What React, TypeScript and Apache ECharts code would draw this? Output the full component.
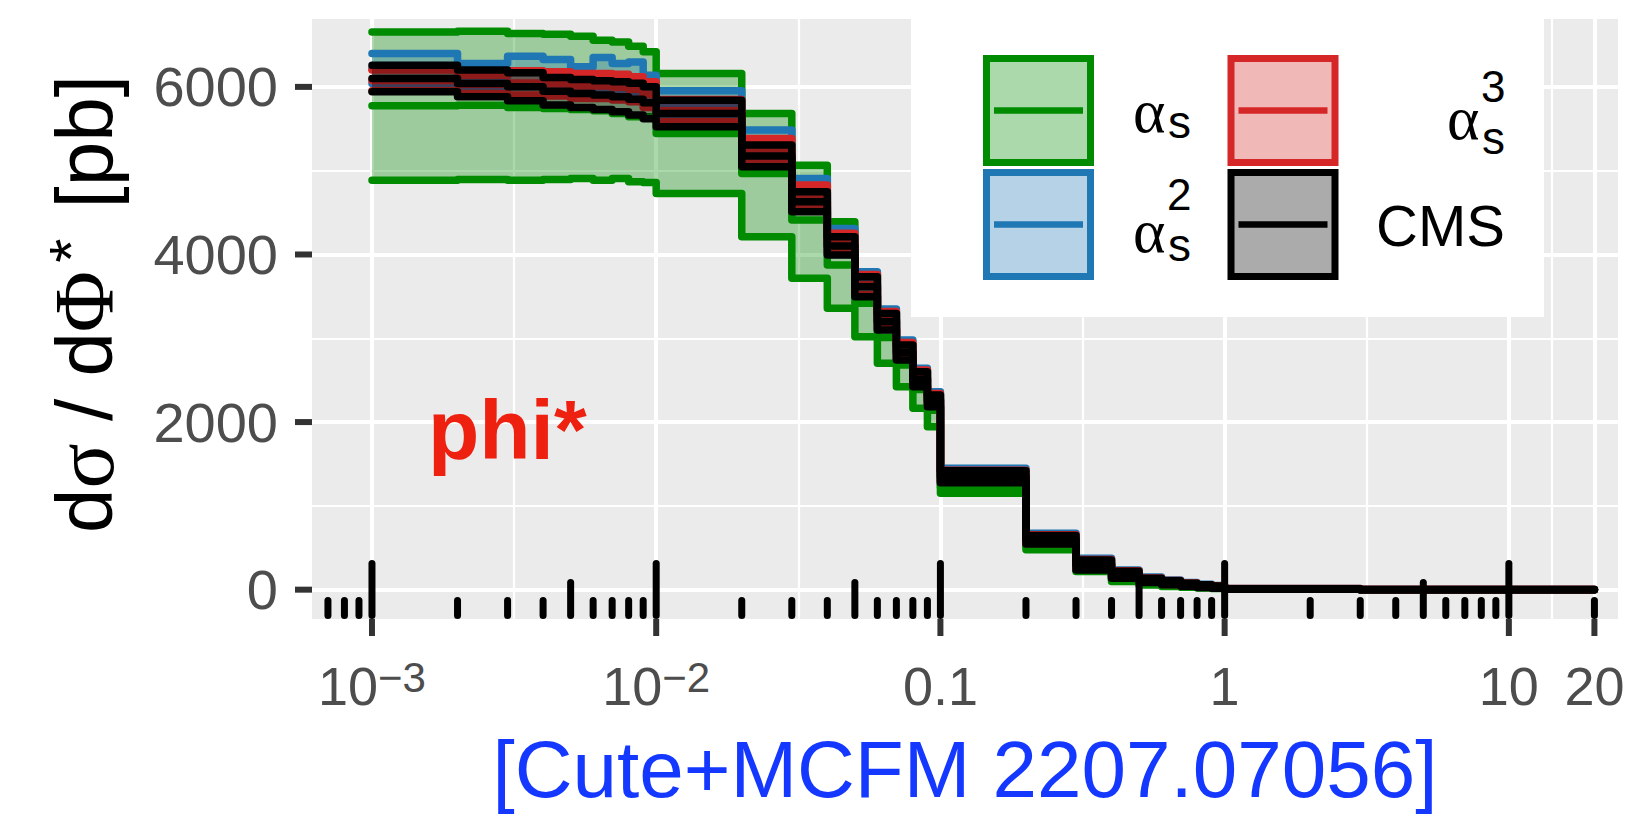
import React, { useEffect, useRef } from "react";
import * as echarts from "echarts";

// ---------- data ----------
const binEdges = [
  0.001, 0.002, 0.003, 0.004, 0.005, 0.006, 0.007, 0.008, 0.009,
  0.01, 0.02, 0.03, 0.04, 0.05, 0.06, 0.07, 0.08, 0.09,
  0.1, 0.2, 0.3, 0.4, 0.5, 0.6, 0.7, 0.8, 0.9,
  1, 3, 20,
];

const alphaS_hi = [6656, 6664, 6636, 6628, 6605, 6557, 6537, 6486, 6418, 6160, 5683, 5066, 4390, 3780, 3310, 2930, 2610, 2330, 1310, 560, 260, 140, 90, 62, 45, 34, 26, 8, 0.6];
const alphaS_mid = [5774, 5782, 5754, 5742, 5730, 5714, 5682, 5643, 5643, 5444, 4967, 4410, 3874, 3417, 3010, 2680, 2390, 2140, 1230, 514, 238, 118, 72, 50, 36, 27, 20, 6, 0.4];
const alphaS_lo = [4887, 4895, 4887, 4895, 4907, 4887, 4907, 4867, 4859, 4729, 4211, 3715, 3357, 3019, 2701, 2422, 2164, 1945, 1151, 475, 216, 97, 57, 38, 28, 20, 15, 4, 0.3];

const alphaS2_hi = [6398, 6279, 6366, 6326, 6239, 6350, 6279, 6298, 6140, 5953, 5484, 4908, 4311, 3794, 3350, 2979, 2641, 2363, 1449, 674, 376, 236, 150, 115, 85, 65, 50, 14, 1.2];
const alphaS2_mid = [6219, 6120, 6184, 6154, 6096, 6156, 6110, 6100, 5991, 5776, 5302, 4734, 4156, 3652, 3228, 2865, 2536, 2277, 1370, 617, 313, 193, 120, 90, 65, 48, 35, 10, 0.8];
const alphaS2_lo = [6040, 5961, 6001, 5981, 5953, 5961, 5942, 5902, 5842, 5600, 5120, 4560, 4000, 3510, 3105, 2750, 2430, 2190, 1290, 560, 250, 150, 90, 65, 45, 30, 20, 6, 0.5];

const alphaS3_hi = [6200, 6140, 6192, 6180, 6160, 6160, 6152, 6121, 6062, 5850, 5385, 4828, 4252, 3760, 3320, 2950, 2620, 2340, 1425, 655, 360, 225, 140, 108, 80, 60, 46, 14, 1.0];
const alphaS3_mid = [6076, 6030, 6047, 6035, 6011, 6011, 5997, 5972, 5908, 5716, 5245, 4700, 4140, 3640, 3220, 2855, 2530, 2270, 1355, 600, 300, 185, 114, 85, 61, 44, 32, 10, 0.7];
const alphaS3_lo = [5953, 5921, 5902, 5890, 5862, 5862, 5842, 5823, 5754, 5583, 5106, 4569, 4030, 3520, 3120, 2760, 2440, 2200, 1285, 550, 245, 145, 88, 62, 42, 28, 19, 6, 0.4];

const cms_hi = [6259, 6200, 6168, 6113, 6089, 6074, 6062, 6042, 6002, 5841, 5305, 4748, 4211, 3734, 3297, 2920, 2601, 2323, 1420, 645, 355, 220, 137, 105, 78, 58, 44, 10, 0.8];
const cms_mid = [6100, 6040, 6001, 5948, 5921, 5902, 5882, 5853, 5811, 5682, 5175, 4628, 4102, 3615, 3197, 2830, 2511, 2253, 1348, 595, 295, 178, 111, 82, 59, 42, 30, 7, 0.5];
const cms_lo = [5941, 5881, 5834, 5783, 5754, 5731, 5703, 5664, 5620, 5523, 5046, 4509, 3993, 3496, 3098, 2741, 2422, 2184, 1277, 546, 236, 137, 85, 60, 40, 26, 17, 4, 0.3];

const xTickValues = [0.001, 0.01, 0.1, 1, 10, 20];
const xTickBase = ["10", "10", "0.1", "1", "10", "20"];
const xTickExp = ["−3", "−2", "", "", "", ""];
const xMinorGrid = [0.0031623, 0.031623, 0.31623, 3.1623, 14.142];
const yTickValues = [0, 2000, 4000, 6000];
const yTickLabels = ["0", "2000", "4000", "6000"];
const yMinorGrid = [1000, 3000, 5000];
const logTickValues = [
  0.0007, 0.0008, 0.0009,
  0.001, 0.002, 0.003, 0.004, 0.005, 0.006, 0.007, 0.008, 0.009,
  0.01, 0.02, 0.03, 0.04, 0.05, 0.06, 0.07, 0.08, 0.09,
  0.1, 0.2, 0.3, 0.4, 0.5, 0.6, 0.7, 0.8, 0.9,
  1, 2, 3, 4, 5, 6, 7, 8, 9,
  10, 20,
];

const X_MIN = -3.211;
const X_MAX = 1.384;
const Y_MIN = -350;
const Y_MAX = 6810;

const SANS = "'Liberation Sans', Arial, Helvetica, sans-serif";
const SERIF = "'Liberation Serif', 'DejaVu Serif', serif";
const TICK_COL = "#4D4D4D";
const LINE_W = 7.5;

type Band = { name: string; color: string; fill: string; hi: number[]; mid: number[]; lo: number[] };

const bands: Band[] = [
  { name: "αs", color: "#008B00", fill: "rgba(0,139,0,0.33)", hi: alphaS_hi, mid: alphaS_mid, lo: alphaS_lo },
  { name: "αs2", color: "#1F77B4", fill: "rgba(31,119,180,0.33)", hi: alphaS2_hi, mid: alphaS2_mid, lo: alphaS2_lo },
  { name: "αs3", color: "#D62728", fill: "rgba(214,39,40,0.33)", hi: alphaS3_hi, mid: alphaS3_mid, lo: alphaS3_lo },
  { name: "CMS", color: "#000000", fill: "rgba(0,0,0,0.33)", hi: cms_hi, mid: cms_mid, lo: cms_lo },
];

const lx = (v: number) => Math.log10(v);

function buildSeries() {
  const series: any[] = [];
  let z = 2;
  bands.forEach((b) => {
    // ribbon
    series.push({
      type: "custom",
      name: b.name + " band",
      silent: true,
      z: z++,
      data: [[lx(binEdges[0]), b.lo[0]]],
      renderItem: (_params: any, api: any) => {
        const pts: number[][] = [];
        for (let i = 0; i < b.hi.length; i++) {
          pts.push(api.coord([lx(binEdges[i]), b.hi[i]]));
          pts.push(api.coord([lx(binEdges[i + 1]), b.hi[i]]));
        }
        for (let i = b.lo.length - 1; i >= 0; i--) {
          pts.push(api.coord([lx(binEdges[i + 1]), b.lo[i]]));
          pts.push(api.coord([lx(binEdges[i]), b.lo[i]]));
        }
        return { type: "polygon", shape: { points: pts }, style: { fill: b.fill, stroke: "none" } };
      },
    });
    // step lines: upper, lower, central
    [b.hi, b.lo, b.mid].forEach((vals, k) => {
      series.push({
        type: "custom",
        name: b.name + ["hi", "lo", "mid"][k],
        silent: true,
        z: z++,
        data: [[lx(binEdges[0]), vals[0]]],
        renderItem: (_params: any, api: any) => {
          const pts: number[][] = [];
          for (let i = 0; i < vals.length; i++) {
            pts.push(api.coord([lx(binEdges[i]), vals[i]]));
            pts.push(api.coord([lx(binEdges[i + 1]), vals[i]]));
          }
          return {
            type: "polyline",
            shape: { points: pts },
            style: { stroke: b.color, lineWidth: LINE_W, fill: "none", lineJoin: "round", lineCap: "round" },
          };
        },
      });
    });
  });
  // log ticks (annotation_logticks)
  series.push({
    type: "custom",
    name: "logticks",
    silent: true,
    z: 100,
    data: logTickValues.map((v) => {
      const m = Math.round(v / Math.pow(10, Math.floor(Math.log10(v) + 1e-9)));
      return [lx(v), m === 1 ? 2 : m === 5 ? 1 : 0];
    }),
    renderItem: (_params: any, api: any) => {
      const base = api.coord([api.value(0), Y_MIN]);
      const kind = api.value(1);
      const len = kind === 2 ? 59 : kind === 1 ? 40 : 22;
      return {
        type: "line",
        shape: { x1: base[0], y1: base[1] - 3.5, x2: base[0], y2: base[1] - len + 3.5 },
        style: { stroke: "#000", lineWidth: 7, lineCap: "round" },
      };
    },
  });
  // axis ticks (outside the panel)
  series.push({
    type: "custom",
    name: "xticks",
    silent: true,
    z: 99,
    data: xTickValues.map((v) => [lx(v), Y_MIN]),
    renderItem: (_params: any, api: any) => {
      const p = api.coord([api.value(0), api.value(1)]);
      return {
        type: "line",
        shape: { x1: p[0], y1: p[1], x2: p[0], y2: p[1] + 17 },
        style: { stroke: "#333333", lineWidth: 6 },
      };
    },
  });
  series.push({
    type: "custom",
    name: "yticks",
    silent: true,
    z: 99,
    data: yTickValues.map((v) => [X_MIN, v]),
    renderItem: (_params: any, api: any) => {
      const p = api.coord([api.value(0), api.value(1)]);
      return {
        type: "line",
        shape: { x1: p[0] - 17, y1: p[1], x2: p[0], y2: p[1] },
        style: { stroke: "#333333", lineWidth: 6 },
      };
    },
  });
  return series;
}

function legendGraphics() {
  const els: any[] = [];
  els.push({ type: "rect", shape: { x: 911, y: 19, width: 633, height: 298 }, style: { fill: "#FFFFFF" }, z: 200 });
  const keys = [
    { b: bands[0], x: 986.5, y: 58.5 },
    { b: bands[1], x: 986.5, y: 172.5 },
    { b: bands[2], x: 1231, y: 58.5 },
    { b: bands[3], x: 1231, y: 172.5 },
  ];
  keys.forEach((k) => {
    els.push({
      type: "rect",
      shape: { x: k.x, y: k.y, width: 104, height: 104 },
      style: { fill: k.b.fill, stroke: k.b.color, lineWidth: 7 },
      z: 201,
    });
    els.push({
      type: "line",
      shape: { x1: k.x + 7.5, y1: k.y + 52, x2: k.x + 96.5, y2: k.y + 52 },
      style: { stroke: k.b.color, lineWidth: 6.5 },
      z: 202,
    });
  });
  const t = (text: string, x: number, y: number, size: number, family: string, align = "left") => ({
    type: "text",
    x,
    y,
    z: 203,
    style: { text, fill: "#000", fontSize: size, fontFamily: family, align, verticalAlign: "middle" },
  });
  // α_s
  els.push(t("α", 1133, 111, 62, SERIF));
  els.push(t("s", 1168, 122, 46, SANS));
  // α_s^2
  els.push(t("α", 1133, 231, 62, SERIF));
  els.push(t("s", 1168, 245, 46, SANS));
  els.push(t("2", 1167, 194, 44, SANS));
  // α_s^3
  els.push(t("α", 1447, 118, 62, SERIF));
  els.push(t("s", 1482, 138, 46, SANS));
  els.push(t("3", 1481, 86, 44, SANS));
  // CMS
  els.push(t("CMS", 1505, 225, 58, SANS, "right"));
  return els;
}

function buildOption() {
  return {
    animation: false,
    backgroundColor: "#FFFFFF",
    grid: { left: 312, top: 19, width: 1306, height: 600, show: true, backgroundColor: "#EBEBEB", borderWidth: 0 },
    xAxis: [
      {
        type: "value",
        min: X_MIN,
        max: X_MAX,
        position: "bottom",
        axisLine: { show: false, onZero: false },
        axisTick: { show: false, customValues: xTickValues.map(lx) },
        axisLabel: {
          customValues: xTickValues.map(lx),
          margin: 37,
          formatter: (v: number) => {
            const i = xTickValues.findIndex((t) => Math.abs(lx(t) - v) < 1e-6);
            if (i < 0) return "";
            return "{b|" + xTickBase[i] + "}" + (xTickExp[i] ? "{s|" + xTickExp[i] + "}" : "");
          },
          rich: {
            b: { fontSize: 54, lineHeight: 60, color: TICK_COL, fontFamily: SANS },
            s: { fontSize: 42, lineHeight: 24, verticalAlign: "top", color: TICK_COL, fontFamily: SANS },
          },
        },
        splitLine: { show: true, lineStyle: { color: "#FFFFFF", width: 4 } },
      },
      {
        type: "value",
        min: X_MIN,
        max: X_MAX,
        position: "bottom",
        axisLine: { show: false, onZero: false },
        axisTick: { show: false, customValues: xMinorGrid.map(lx) },
        axisLabel: { show: false },
        splitLine: { show: true, lineStyle: { color: "#FFFFFF", width: 2.2 } },
      },
    ],
    yAxis: [
      {
        type: "value",
        min: Y_MIN,
        max: Y_MAX,
        position: "left",
        axisLine: { show: false, onZero: false },
        axisTick: { show: false, customValues: yTickValues },
        axisLabel: {
          customValues: yTickValues,
          margin: 34,
          fontSize: 56,
          color: TICK_COL,
          fontFamily: SANS,
          formatter: (v: number) => {
            const i = yTickValues.findIndex((t) => Math.abs(t - v) < 1e-6);
            return i < 0 ? "" : yTickLabels[i];
          },
        },
        splitLine: { show: true, lineStyle: { color: "#FFFFFF", width: 4 } },
      },
      {
        type: "value",
        min: Y_MIN,
        max: Y_MAX,
        position: "left",
        axisLine: { show: false, onZero: false },
        axisTick: { show: false, customValues: yMinorGrid },
        axisLabel: { show: false },
        splitLine: { show: true, lineStyle: { color: "#FFFFFF", width: 2.2 } },
      },
    ],
    series: buildSeries(),
    graphic: [
      ...legendGraphics(),
      {
        type: "text",
        x: 84,
        y: 304,
        rotation: Math.PI / 2,
        z: 210,
        style: {
          text: "{n|d}{g|σ}{n| / d}{g|Φ}{u|*}{n| [pb]}",
          align: "center",
          verticalAlign: "middle",
          rich: {
            n: { fontSize: 80, fontFamily: SANS, fill: "#000", lineHeight: 90 },
            g: { fontSize: 84, fontFamily: SERIF, fill: "#000", lineHeight: 90 },
            u: { fontSize: 62, fontFamily: SANS, fill: "#000", lineHeight: 66, verticalAlign: "top", padding: [0, 8, 0, 8] },
          },
        },
      },
      {
        type: "text",
        x: 428,
        y: 430,
        z: 210,
        style: { text: "phi*", fill: "#EE2010", fontSize: 84, fontWeight: "bold", fontFamily: SANS, align: "left", verticalAlign: "middle" },
      },
      {
        type: "text",
        x: 965,
        y: 769,
        z: 210,
        style: { text: "[Cute+MCFM 2207.07056]", fill: "#1438FF", fontSize: 80, fontFamily: SANS, align: "center", verticalAlign: "middle" },
      },
    ],
  };
}

export default function App() {
  const ref = useRef<HTMLDivElement>(null);
  useEffect(() => {
    if (!ref.current) return;
    const chart = echarts.init(ref.current, undefined, { renderer: "svg" });
    chart.setOption(buildOption() as any);
    return () => chart.dispose();
  }, []);
  return <div ref={ref} style={{ position: "absolute", left: 0, top: 0, width: 1628, height: 816, background: "#fff" }} />;
}
